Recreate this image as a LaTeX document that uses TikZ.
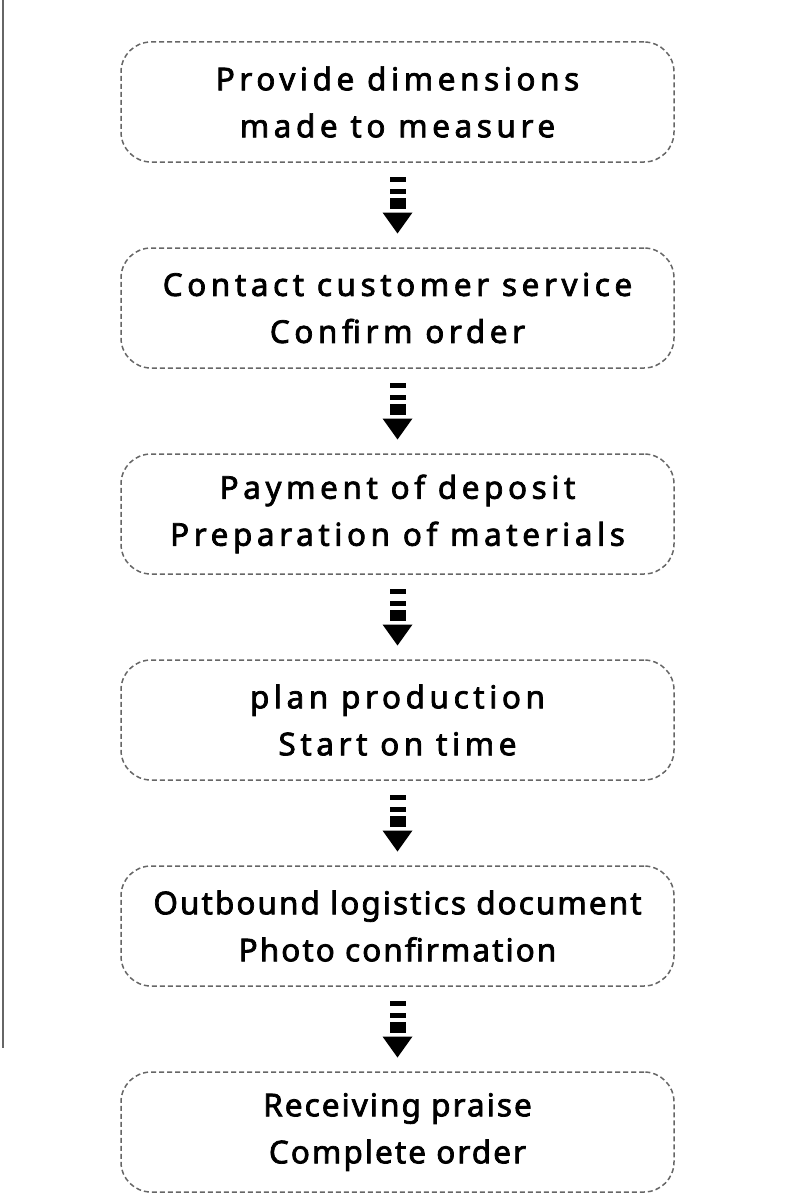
\documentclass[tikz,border=0pt]{standalone}
\usepackage{fontspec}
\setmainfont{Noto Sans}[FakeBold=2.3]
\newfontfamily\widefont{Noto Sans}[LetterSpace=14.5, FakeBold=2.3]
\newfontfamily\tightfont{Noto Sans}[LetterSpace=6.5, FakeBold=2.3]
\usetikzlibrary{positioning, calc}

\begin{document}
\begin{tikzpicture}[x=1pt,y=1pt,
  stepbox/.style={draw=black!60, line width=1.5pt, dash pattern=on 5pt off 3pt,
    rounded corners=30pt, minimum width=553pt, minimum height=120pt,
    align=center, font=\widefont\fontsize{31.5}{47}\selectfont},
  tightbox/.style={stepbox, font=\tightfont\fontsize{31.5}{47}\selectfont},
  ]
\useasboundingbox (0,0) rectangle (790,-1196);
% Page edge on the left
\draw[black!60, line width=1.5pt] (3,0) -- (3,-1048);
% Steps
\node[stepbox] (provide) at (397.5,-102) {Provide dimensions\\made to measure};
\node[stepbox, below=84.5pt of provide] (contact) {Contact customer service\\Confirm order};
\node[stepbox, below=84.5pt of contact] (deposit) {Payment of deposit\\Preparation of materials};
\node[stepbox, below=84.5pt of deposit] (plan) {plan production\\Start on time};
\node[tightbox, below=84.5pt of plan] (outbound) {Outbound logistics document\\Photo confirmation};
\node[tightbox, below=84.5pt of outbound] (receive) {Receiving praise\\Complete order};
% Block arrows between the steps
\foreach \a/\b in {provide/contact, contact/deposit, deposit/plan, plan/outbound, outbound/receive} {
    \coordinate (m-\a) at ($(\a.south)!0.5!(\b.north)$);
    \fill ($(m-\a)+(-8,28.5)$) rectangle ($(m-\a)+(8,23.5)$);
    \fill ($(m-\a)+(-8,16.5)$) rectangle ($(m-\a)+(8,11.5)$);
    \fill ($(m-\a)+(-8,7.5)$) rectangle ($(m-\a)+(8,-3.5)$);
    \fill ($(m-\a)+(-15,-7.5)$) -- ($(m-\a)+(15,-7.5)$) -- ($(m-\a)+(0,-28.5)$) -- cycle;
}
\end{tikzpicture}
\end{document}
